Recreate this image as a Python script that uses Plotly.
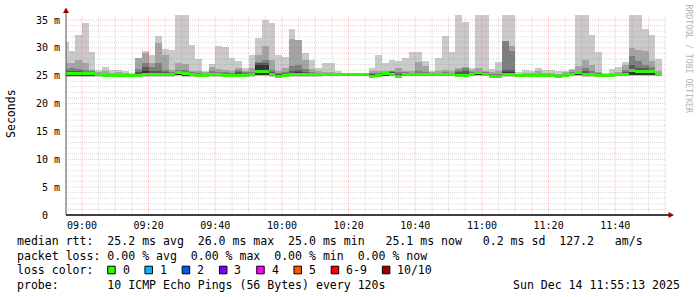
import plotly.graph_objects as go
import pandas as pd

# ---------------- data ----------------
bar_times = pd.date_range("2025-12-14 08:55:00", periods=90, freq="2min")

# sorted pings per 2-minute step (ms): max, p9, p8, p7, p6 ; p2 ; min ; median
ping_max = [31.1, 29.4, 32.3, 34.5, 29.3, 26.0, 26.6, 26.0, 26.0, 25.9,
            25.5, 28.2, 29.4, 28.7, 32.1, 29.8, 29.6, 36.0, 36.0, 30.5,
            28.0, 25.9, 27.1, 30.4, 30.2, 28.1, 27.7, 26.4, 28.8, 31.8,
            35.0, 34.4, 28.8, 28.4, 33.3, 31.5, 29.1, 27.9, 26.3, 27.2,
            27.2, 25.8, 25.5, 25.4, 25.4, 25.5, 26.3, 28.7, 27.3, 27.9,
            27.6, 28.2, 29.2, 29.2, 27.6, 25.9, 28.2, 32.1, 29.3, 36.0,
            34.6, 26.4, 36.0, 36.0, 26.2, 27.4, 36.0, 36.0, 25.6, 26.0,
            25.8, 26.3, 26.1, 26.1, 25.8, 25.8, 26.2, 36.0, 36.0, 32.4,
            29.2, 25.5, 26.2, 26.5, 27.5, 36.0, 36.0, 33.3, 32.4, 28.0]
ping_p9 = [27.3, 27.3, 27.8, 27.2, 26.1, 25.7, 25.8, 25.5, 25.6, 25.5,
           25.3, 28.1, 29.1, 27.3, 30.8, 28.7, 26.0, 27.3, 27.1, 25.9,
           25.8, 25.6, 26.6, 26.2, 26.0, 25.8, 26.4, 25.9, 26.4, 28.8,
           30.3, 27.9, 25.9, 26.4, 31.6, 31.4, 27.8, 26.2, 25.8, 25.6,
           25.6, 25.5, 25.4, 25.35, 25.35, 25.4, 25.9, 25.8, 25.9, 25.9,
           26.3, 25.9, 25.8, 27.4, 26.8, 25.6, 25.8, 26.0, 25.8, 26.4,
           26.6, 26.1, 26.4, 25.9, 25.6, 25.8, 31.3, 30.3, 25.4, 25.5,
           25.5, 25.8, 25.5, 25.5, 25.4, 25.6, 26.0, 26.7, 27.8, 27.0,
           25.7, 25.35, 25.5, 25.6, 27.0, 30.0, 29.6, 29.4, 27.7, 25.8]
ping_p8 = [26.2, 26.3, 26.2, 26.0, 25.8, 25.5, 25.3, 25.3, 25.3, 25.3,
           25.2, 26.2, 27.2, 26.5, 27.2, 26.0, 25.6, 26.0, 26.0, 25.6,
           25.5, 25.4, 25.8, 25.7, 25.6, 25.5, 26.0, 25.6, 25.7, 27.4,
           27.8, 26.0, 25.5, 25.7, 26.8, 27.0, 26.2, 25.7, 25.5, 25.4,
           25.4, 25.3, 25.3, 25.3, 25.3, 25.3, 25.5, 25.5, 25.6, 25.8,
           25.7, 25.6, 25.5, 25.8, 25.6, 25.4, 25.5, 25.6, 25.5, 26.1,
           26.3, 25.6, 25.9, 25.6, 25.4, 25.4, 31.3, 29.4, 25.3, 25.3,
           25.3, 25.4, 25.3, 25.3, 25.2, 25.4, 25.6, 25.8, 26.4, 25.8,
           25.5, 25.3, 25.3, 25.4, 26.1, 28.6, 27.6, 27.0, 26.5, 25.5]
ping_p7 = [25.8, 25.8, 25.9, 25.7, 25.6, 25.4, 25.2, 25.2, 25.2, 25.2,
           25.1, 25.6, 26.6, 25.8, 25.9, 25.6, 25.4, 25.8, 25.7, 25.4,
           25.3, 25.3, 25.4, 25.5, 25.4, 25.3, 25.6, 25.4, 25.5, 27.2,
           27.2, 25.6, 25.3, 25.4, 25.9, 26.0, 25.7, 25.5, 25.4, 25.3,
           25.3, 25.2, 25.25, 25.25, 25.25, 25.25, 25.3, 25.3, 25.5, 25.6,
           25.4, 25.4, 25.4, 25.5, 25.4, 25.3, 25.4, 25.4, 25.4, 25.6,
           25.8, 25.4, 25.7, 25.5, 25.2, 25.2, 26.1, 26.1, 25.2, 25.2,
           25.2, 25.3, 25.2, 25.2, 25.1, 25.2, 25.4, 25.6, 25.8, 25.5,
           25.3, 25.2, 25.2, 25.3, 25.6, 27.0, 26.4, 26.4, 26.0, 25.4]
ping_p6 = [25.5, 25.5, 25.6, 25.5, 25.5, 25.35, 25.1, 25.1, 25.1, 25.1,
           25.1, 25.3, 25.8, 25.5, 25.5, 25.4, 25.3, 25.7, 25.6, 25.3,
           25.2, 25.2, 25.3, 25.3, 25.3, 25.2, 25.4, 25.3, 25.3, 27.0,
           27.0, 25.4, 25.1, 25.2, 25.5, 25.6, 25.5, 25.3, 25.3, 25.2,
           25.2, 25.2, 25.2, 25.2, 25.2, 25.2, 25.1, 25.1, 25.4, 25.4,
           25.2, 25.3, 25.3, 25.3, 25.3, 25.2, 25.3, 25.3, 25.3, 25.3,
           25.4, 25.3, 25.6, 25.4, 25.1, 25.1, 25.6, 25.6, 25.15, 25.15,
           25.15, 25.2, 25.15, 25.15, 25.0, 25.1, 25.3, 25.5, 25.5, 25.3,
           25.2, 25.15, 25.15, 25.2, 25.4, 26.2, 26.0, 25.9, 25.8, 25.3]
ping_p2 = [24.95, 24.9, 24.9, 24.9, 24.95, 25.0, 24.9, 24.9, 24.95, 24.95,
           24.95, 24.9, 24.95, 25.0, 24.95, 25.0, 25.0, 25.05, 25.0, 24.95,
           24.95, 24.95, 25.0, 25.0, 24.9, 24.95, 24.95, 24.95, 25.0, 25.1,
           25.1, 25.0, 24.85, 24.95, 25.0, 25.0, 25.0, 25.0, 25.0, 25.0,
           25.0, 25.0, 25.05, 25.05, 25.05, 25.0, 24.85, 24.9, 25.0, 25.0,
           24.85, 25.0, 25.0, 25.0, 25.0, 25.0, 25.0, 25.0, 25.0, 24.95,
           24.95, 25.0, 25.05, 25.0, 24.85, 24.85, 25.0, 25.0, 25.0, 25.0,
           25.0, 25.0, 25.0, 25.0, 24.85, 24.95, 25.0, 25.05, 25.0, 25.0,
           25.0, 25.0, 25.0, 25.0, 25.05, 25.2, 25.2, 25.2, 25.2, 25.0]
ping_min = [24.8, 24.75, 24.7, 24.75, 24.8, 24.85, 24.8, 24.8, 24.85, 24.85,
            24.85, 24.8, 24.8, 24.85, 24.8, 24.85, 24.85, 24.9, 24.85, 24.8,
            24.85, 24.85, 24.85, 24.85, 24.8, 24.85, 24.85, 24.85, 24.85, 24.9,
            24.9, 24.85, 24.75, 24.85, 24.85, 24.85, 24.85, 24.85, 24.85, 24.9,
            24.9, 24.9, 24.95, 24.95, 24.95, 24.9, 24.75, 24.8, 24.9, 24.9,
            24.75, 24.9, 24.9, 24.9, 24.9, 24.9, 24.9, 24.9, 24.9, 24.8,
            24.8, 24.9, 24.9, 24.9, 24.75, 24.75, 24.85, 24.85, 24.9, 24.9,
            24.9, 24.85, 24.9, 24.9, 24.75, 24.85, 24.9, 24.9, 24.85, 24.85,
            24.9, 24.9, 24.9, 24.9, 24.9, 24.9, 24.95, 24.95, 24.95, 24.9]
median_rtt = [25.35, 25.35, 25.35, 25.35, 25.35, 25.3, 25.05, 25.05, 25.05, 25.05,
              25.05, 25.05, 25.2, 25.2, 25.2, 25.2, 25.2, 25.55, 25.4, 25.15,
              25.1, 25.1, 25.15, 25.2, 25.05, 25.05, 25.1, 25.1, 25.15, 25.75,
              25.75, 25.2, 24.95, 25.1, 25.3, 25.3, 25.3, 25.15, 25.15, 25.15,
              25.15, 25.15, 25.2, 25.2, 25.2, 25.15, 24.95, 25.0, 25.4, 25.25,
              24.95, 25.2, 25.2, 25.2, 25.2, 25.15, 25.2, 25.2, 25.2, 25.1,
              25.1, 25.2, 25.5, 25.3, 24.95, 24.95, 25.2, 25.2, 25.1, 25.1,
              25.1, 25.1, 25.1, 25.1, 24.95, 25.05, 25.2, 25.5, 25.3, 25.15,
              25.1, 25.1, 25.1, 25.15, 25.3, 25.95, 25.8, 25.8, 25.7, 25.2]

loss_labels = ["0", "1", "2", "3", "4", "5", "6-9", "10/10"]
loss_colors = ["#26ff00", "#00b8ff", "#0059ff", "#7e00ff", "#ff00ff", "#ff5500", "#ff0000", "#a00000"]

y_tick_vals = [0, 5, 10, 15, 20, 25, 30, 35]
y_tick_text = ["\u00a00\u00a0\u00a0", "\u00a05 m", "10 m", "15 m", "20 m", "25 m", "30 m", "35 m"]

legend_lines = [
    "median rtt:  25.2 ms avg  26.0 ms max  25.0 ms min   25.1 ms now   0.2 ms sd  127.2   am/s",
    "packet loss: 0.00 % avg  0.00 % max  0.00 % min  0.00 % now",
    "loss color:",
    "probe:       10 ICMP Echo Pings (56 Bytes) every 120s",
]
stamp_text = "Sun Dec 14 11:55:13 2025"

# ---------------- figure ----------------
MONO = "DejaVu Sans Mono"
PL, PT, PW, PH = 66, 15, 600, 200
fig = go.Figure()

smoke_colors = ["#cacaca", "#a4a4a4", "#7e7e7e", "#585858", "#323232"]
layers = [(ping_min, ping_max), (ping_p2, ping_p9), (ping_p2, ping_p8),
          (ping_p2, ping_p7), (ping_p2, ping_p6)]
for (lo, hi), col in zip(layers, smoke_colors):
    fig.add_bar(x=bar_times, y=[h - l for h, l in zip(hi, lo)], base=lo,
                width=120000, marker=dict(color=col, line=dict(width=0)),
                hoverinfo="skip")

band = 0.27
fig.add_bar(x=bar_times, y=[2 * band] * len(median_rtt),
            base=[m - band for m in median_rtt], width=120000,
            marker=dict(color=loss_colors[0], line=dict(width=0)), hoverinfo="skip")


def px(x):
    return (x - PL) / PW


def py(y):
    return (PT + PH - y) / PH


def ann(text, x, y, size=11.55, color="black", xanchor="left", angle=0):
    fig.add_annotation(text=text.replace(" ", "\u00a0"), x=px(x), y=py(y),
                       xref="paper", yref="paper", showarrow=False,
                       xanchor=xanchor, yanchor="middle", textangle=angle,
                       borderpad=0, font=dict(family=MONO, size=size, color=color))


# grid drawn over the smoke (rrdtool style)
minor_col = "rgba(140,140,140,0.32)"
major_col = "rgba(225,40,40,0.28)"
for v in range(1, 36):
    fig.add_shape(type="line", xref="paper", x0=0, x1=1, yref="y", y0=v, y1=v,
                  layer="above",
                  line=dict(color=major_col if v % 5 == 0 else minor_col, width=1, dash="1px,1px"))
for t in pd.date_range("2025-12-14 09:00", "2025-12-14 11:55", freq="5min"):
    fig.add_shape(type="line", xref="x", x0=t, x1=t, yref="paper", y0=0, y1=1,
                  layer="above",
                  line=dict(color=major_col if t.minute % 20 == 0 else minor_col, width=1, dash="1px,1px"))

# axes with arrows
fig.add_shape(type="line", xref="paper", yref="paper", x0=px(66), x1=px(66), y0=py(215), y1=py(13),
              line=dict(color="#505050", width=1), layer="above")
fig.add_shape(type="line", xref="paper", yref="paper", x0=px(66), x1=px(669), y0=py(215), y1=py(215),
              line=dict(color="#000000", width=1.3), layer="above")
fig.add_shape(type="path", xref="paper", yref="paper",
              path=f"M{px(66)},{py(7.5)} L{px(63)},{py(13)} L{px(69)},{py(13)} Z",
              fillcolor="#9a0000", line=dict(width=0), layer="above")
fig.add_shape(type="path", xref="paper", yref="paper",
              path=f"M{px(674)},{py(215)} L{px(668.5)},{py(212)} L{px(668.5)},{py(218)} Z",
              fillcolor="#9a0000", line=dict(width=0), layer="above")

# texts
ann("Seconds", 11, 114, size=11.55, angle=-90, xanchor="center")
ann("RRDTOOL / TOBI OETIKER", 688.5, 59, size=8.2, color="#b4b4b4", angle=90, xanchor="center")
line_y = [241, 255.5, 270, 284.5]
for txt, yy in zip(legend_lines, line_y):
    ann(txt, 16, yy)
ann(stamp_text, 680.5, line_y[3], xanchor="right")

# loss colour swatches
cw = 6.95
sx = 107.7
for lab, col in zip(loss_labels, loss_colors):
    fig.add_shape(type="rect", xref="paper", yref="paper",
                  x0=px(sx), x1=px(sx + 7.5), y0=py(line_y[2] + 3.8), y1=py(line_y[2] - 3.8),
                  fillcolor=col, line=dict(color="#000000", width=1), layer="above")
    lx = sx + 14
    ann(lab, lx, line_y[2])
    sx = lx + len(lab) * cw + 16.3

fig.update_layout(
    width=697, height=297,
    margin=dict(l=PL, r=697 - PL - PW, t=PT, b=297 - PT - PH, pad=0),
    paper_bgcolor="white", plot_bgcolor="white",
    barmode="overlay", bargap=0, showlegend=False,
    xaxis=dict(type="date",
               range=["2025-12-14 08:55:13", "2025-12-14 11:55:13"],
               tickformat="%H:%M", dtick=20 * 60 * 1000, tick0="2025-12-14 09:00",
               showgrid=False, zeroline=False, showline=False, ticks="",
               tickfont=dict(family=MONO, size=10, color="black"),
               ticklabelstandoff=3, fixedrange=True),
    yaxis=dict(range=[0, 35.9], tickvals=y_tick_vals, ticktext=y_tick_text,
               showgrid=False, zeroline=False, showline=False, ticks="",
               tickfont=dict(family=MONO, size=10, color="black"),
               ticklabelstandoff=5, fixedrange=True),
)

fig.write_html("out.html")
